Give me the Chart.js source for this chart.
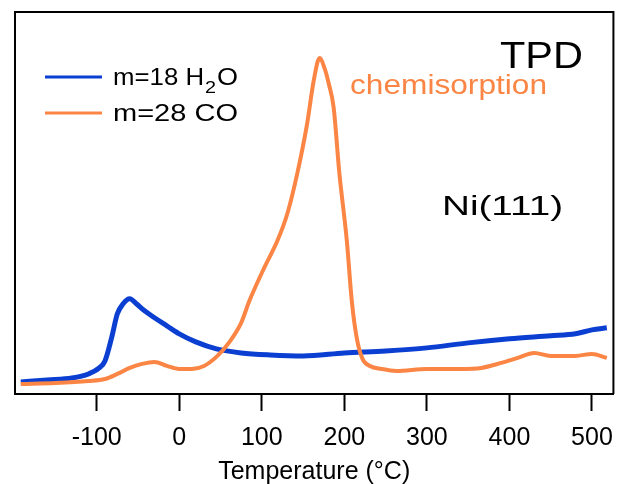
<!DOCTYPE html>
<html>
<head>
<meta charset="utf-8">
<script src="https://cdn.jsdelivr.net/npm/chart.js@4.4.1/dist/chart.umd.min.js"></script>
<style>
  html, body { margin: 0; padding: 0; background: #fff; }
  #wrap { width: 625px; height: 484px; position: relative; }
</style>
</head>
<body>
<div id="wrap"><canvas id="tpd"></canvas></div>
<script>
// temperature (°C) / signal (arb.)
const h2oTemp = [-192, -160, -130, -110, -97, -90, -82, -75, -68, -60, -52, -42, -30, -15, 0, 20, 45, 75, 110, 150, 200, 250, 300, 350, 400, 450, 480, 500, 518];
const h2oSignal = [12, 14, 16, 20, 26, 33, 56, 80, 90, 95, 90, 83, 76, 68, 60, 52, 45, 41, 39, 38, 41, 43, 46, 51, 55, 58, 60, 64, 66];

const coTemp = [-192, -150, -110, -90, -75, -60, -45, -30, -15, 0, 15, 30, 45, 60, 75, 85, 103, 119, 131, 143, 155, 163, 170, 176, 181, 187, 194, 203, 209, 215, 222, 231, 245, 263, 300, 340, 366, 390, 410, 430, 450, 480, 500, 518];
const coSignal = [10, 11, 13, 15, 20, 26, 30, 32, 28, 25, 25, 28, 37, 51, 71, 93, 126, 153, 180, 220, 270, 313, 335, 325, 310, 286, 220, 153, 93, 56, 35, 28, 25, 23, 25, 25, 26, 31, 36, 41, 38, 38, 40, 36];

const xTicks = [-100, 0, 100, 200, 300, 400, 500];

const BLUE = '#0b3fd2';
const ORANGE = '#fa8544';
const FONT = '"Liberation Sans", Arial, Helvetica, sans-serif';

function pts(xs, ys) {
    return xs.map((x, i) => ({ x: x, y: ys[i] }));
}

// text stretched horizontally to a target width (the figure's lettering is wide)
function wideText(ctx, txt, x, y, size, width, color) {
    ctx.save();
    ctx.font = size + 'px ' + FONT;
    ctx.fillStyle = color || '#000';
    ctx.textBaseline = 'alphabetic';
    const w = ctx.measureText(txt).width;
    ctx.translate(x, y);
    ctx.scale(width / w, 1);
    ctx.fillText(txt, 0, 0);
    ctx.restore();
}

const extras = {
    id: 'extras',
    afterDraw(chart) {
        const ctx = chart.ctx;
        const a = chart.chartArea;

        // frame (bottom edge is the x axis border)
        ctx.save();
        ctx.strokeStyle = '#000';
        ctx.lineWidth = 2;
        ctx.beginPath();
        ctx.moveTo(a.left, a.bottom);
        ctx.lineTo(a.left, a.top);
        ctx.lineTo(a.right, a.top);
        ctx.lineTo(a.right, a.bottom);
        ctx.stroke();
        ctx.restore();

        // legend
        ctx.save();
        ctx.lineWidth = 3;
        ctx.strokeStyle = BLUE;
        ctx.beginPath(); ctx.moveTo(45, 77); ctx.lineTo(102, 77); ctx.stroke();
        ctx.strokeStyle = ORANGE;
        ctx.beginPath(); ctx.moveTo(45, 113); ctx.lineTo(102, 113); ctx.stroke();
        ctx.restore();

        wideText(ctx, 'm=18 H', 113, 85, 24, 91);
        wideText(ctx, '2', 205, 93, 17, 11);
        wideText(ctx, 'O', 217, 85, 24, 21);
        wideText(ctx, 'm=28 CO', 113, 121, 24, 125);

        wideText(ctx, 'TPD', 500, 68, 36, 83);
        wideText(ctx, 'chemisorption', 350, 94, 27, 197, ORANGE);
        wideText(ctx, 'Ni(111)', 442, 215, 28, 121);
    }
};

new Chart(document.getElementById('tpd'), {
    type: 'line',
    data: {
        datasets: [
            {
                label: 'm=18 H\u2082O',
                data: pts(h2oTemp, h2oSignal),
                borderColor: BLUE,
                borderWidth: 5,
                pointRadius: 0,
                cubicInterpolationMode: 'monotone',
                order: 2
            },
            {
                label: 'm=28 CO',
                data: pts(coTemp, coSignal),
                borderColor: ORANGE,
                borderWidth: 4,
                pointRadius: 0,
                cubicInterpolationMode: 'monotone',
                order: 1
            }
        ]
    },
    options: {
        responsive: true,
        maintainAspectRatio: false,
        animation: false,
        layout: { padding: { left: 15, right: 5, top: 12, bottom: 0 } },
        plugins: {
            legend: { display: false },
            tooltip: { enabled: false }
        },
        scales: {
            x: {
                type: 'linear',
                min: -199,
                max: 526,
                afterBuildTicks: function (scale) {
                    scale.ticks = xTicks.map(v => ({ value: v }));
                },
                border: { display: true, color: '#000', width: 2 },
                grid: {
                    drawOnChartArea: false,
                    drawTicks: true,
                    tickLength: 17,
                    tickWidth: 2,
                    tickColor: '#000'
                },
                ticks: {
                    color: '#000',
                    padding: 12,
                    maxRotation: 0,
                    font: { family: FONT, size: 25 }
                },
                title: {
                    display: true,
                    text: 'Temperature (°C)',
                    color: '#000',
                    padding: { top: -8, bottom: -3 },
                    font: { family: FONT, size: 25 }
                }
            },
            y: {
                display: false,
                min: 0,
                max: 381
            }
        }
    },
    plugins: [extras]
});
</script>
</body>
</html>
